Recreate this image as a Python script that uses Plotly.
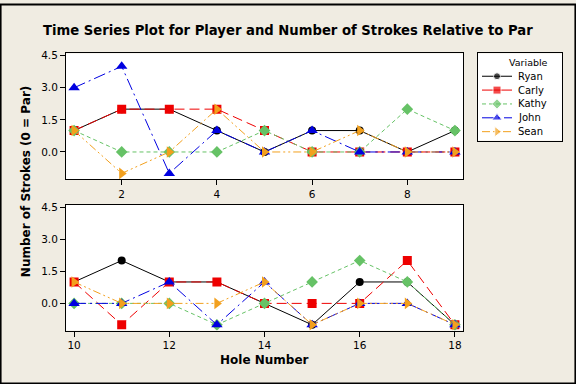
import plotly.graph_objects as go

W, H = 576, 384

players = ["Ryan", "Carly", "Kathy", "John", "Sean"]
holes_front = [1, 2, 3, 4, 5, 6, 7, 8, 9]
holes_back = [10, 11, 12, 13, 14, 15, 16, 17, 18]

front = {
    "Ryan":  [1, 2, 2, 1, 0, 1, 1, 0, 1],
    "Carly": [1, 2, 2, 2, 1, 0, 0, 0, 0],
    "Kathy": [1, 0, 0, 0, 1, 0, 0, 2, 1],
    "John":  [3, 4, -1, 1, 0, 1, 0, 0, 0],
    "Sean":  [1, -1, 0, 2, 0, 0, 1, 0, 0],
}
back = {
    "Ryan":  [1, 2, 1, 1, 0, -1, 1, 1, -1],
    "Carly": [1, -1, 1, 1, 0, 0, 0, 2, -1],
    "Kathy": [0, 0, 0, -1, 0, 1, 2, 1, -1],
    "John":  [0, 0, 1, -1, 1, -1, 0, 0, -1],
    "Sean":  [1, 0, 0, 0, 1, -1, 0, 0, -1],
}

y_ticks = [0, 1.5, 3.0, 4.5]
y_tick_labels = ["0.0", "1.5", "3.0", "4.5"]
x_ticks_front = [2, 4, 6, 8]
x_ticks_back = [10, 12, 14, 16, 18]

styles = {
    "Ryan":  dict(color="#000000", symbol="circle", dash="solid", msize=8),
    "Carly": dict(color="#EE0000", symbol="square", dash="10px,5px", msize=9),
    "Kathy": dict(color="#66C266", symbol="diamond", dash="4px,3px", msize=9),
    "John":  dict(color="#0000E0", symbol="triangle-up", dash="12px,4px,2px,4px", msize=10),
    "Sean":  dict(color="#F2A01E", symbol="triangle-right", dash="8px,3px,2px,3px,2px,3px", msize=10),
}

def px_x(v):
    return v / W

def px_y(v):
    return 1 - v / H

fig = go.Figure()
for p in players:
    s = styles[p]
    fig.add_trace(go.Scatter(
        x=holes_front, y=front[p], name=p, mode="lines+markers",
        line=dict(color=s["color"], width=1, dash=s["dash"]),
        marker=dict(symbol=s["symbol"], size=s["msize"], color=s["color"]),
        xaxis="x", yaxis="y", showlegend=False,
    ))
for p in players:
    s = styles[p]
    fig.add_trace(go.Scatter(
        x=holes_back, y=back[p], name=p, mode="lines+markers",
        line=dict(color=s["color"], width=1, dash=s["dash"]),
        marker=dict(symbol=s["symbol"], size=s["msize"], color=s["color"]),
        xaxis="x2", yaxis="y2", showlegend=False,
    ))

# Legend box: its own small hidden axis in pixel-like coordinates
LX0, LX1, LY0, LY1 = 478, 562, 50, 138
leg_rows = [73, 87, 101, 115, 129]
annotations = []
for p, row in zip(players, leg_rows):
    s = styles[p]
    fig.add_trace(go.Scatter(
        x=[482, 497, 512], y=[row, row, row], mode="lines+markers",
        line=dict(color=s["color"], width=1, dash=s["dash"] if p != "Carly" else "solid"),
        marker=dict(symbol=s["symbol"], size=[0, s["msize"] - 1, 0], color=s["color"]),
        xaxis="x3", yaxis="y3", showlegend=False, hoverinfo="skip",
    ))
    annotations.append(dict(text=p, x=px_x(516), y=px_y(row), xref="paper", yref="paper",
                            xanchor="left", yanchor="middle", showarrow=False,
                            font=dict(family="DejaVu Sans", size=10, color="black")))

tick_font = dict(family="DejaVu Sans", size=10.5, color="#000000")
common_x = dict(showline=True, linecolor="black", linewidth=1, mirror=True,
                showgrid=False, zeroline=False, ticks="outside", ticklen=5,
                tickcolor="black", tickfont=tick_font)
common_y = dict(showline=True, linecolor="black", linewidth=1, mirror=True,
                showgrid=False, zeroline=False, ticks="outside", ticklen=5,
                tickcolor="black", tickfont=tick_font,
                tickvals=y_ticks, ticktext=y_tick_labels, range=[-1.27, 4.6])

x0, x1 = px_x(66), px_x(463)
fig.update_layout(
    width=W, height=H,
    margin=dict(l=0, r=0, t=0, b=0),
    paper_bgcolor="#F0ECE2",
    plot_bgcolor="#FFFFFF",
    xaxis=dict(domain=[x0, x1], anchor="y", range=[0.83, 9.17],
               tickvals=x_ticks_front, **common_x),
    yaxis=dict(domain=[px_y(177), px_y(50)], anchor="x", **common_y),
    xaxis2=dict(domain=[x0, x1], anchor="y2", range=[9.83, 18.17],
                tickvals=x_ticks_back, **common_x),
    yaxis2=dict(domain=[px_y(330), px_y(203)], anchor="x2", **common_y),
    xaxis3=dict(domain=[px_x(LX0), px_x(LX1)], range=[LX0, LX1], anchor="y3",
                showline=True, linecolor="black", linewidth=1, mirror=True,
                showgrid=False, zeroline=False, showticklabels=False, ticks="",
                fixedrange=True),
    yaxis3=dict(domain=[px_y(LY1), px_y(LY0)], range=[LY1, LY0], anchor="x3",
                showline=True, linecolor="black", linewidth=1, mirror=True,
                showgrid=False, zeroline=False, showticklabels=False, ticks="",
                fixedrange=True),
    showlegend=False,
    shapes=[
        dict(type="rect", xref="paper", yref="paper",
             x0=0.001, x1=0.999, y0=0.001, y1=0.999,
             line=dict(color="black", width=2)),
    ],
    annotations=annotations + [
        dict(text="<b>Time Series Plot for Player and Number of Strokes Relative to Par</b>",
             x=px_x(288), y=px_y(27), xref="paper", yref="paper",
             xanchor="center", yanchor="middle", showarrow=False,
             font=dict(family="DejaVu Sans", size=13.2, color="black")),
        dict(text="<b>Number of Strokes (0 = Par)</b>",
             x=px_x(26), y=px_y(180), xref="paper", yref="paper",
             xanchor="center", yanchor="middle", showarrow=False, textangle=-90,
             font=dict(family="DejaVu Sans", size=12, color="black")),
        dict(text="<b>Hole Number</b>",
             x=px_x(264), y=px_y(360), xref="paper", yref="paper",
             xanchor="center", yanchor="middle", showarrow=False,
             font=dict(family="DejaVu Sans", size=12, color="black")),
        dict(text="Variable",
             x=px_x(528), y=px_y(59), xref="paper", yref="paper",
             xanchor="center", yanchor="middle", showarrow=False,
             font=dict(family="DejaVu Sans", size=9.5, color="black")),
    ],
)

fig.write_html("out.html", config={"displayModeBar": False},
               post_script="document.body.style.margin='0';document.body.style.overflow='hidden';")
